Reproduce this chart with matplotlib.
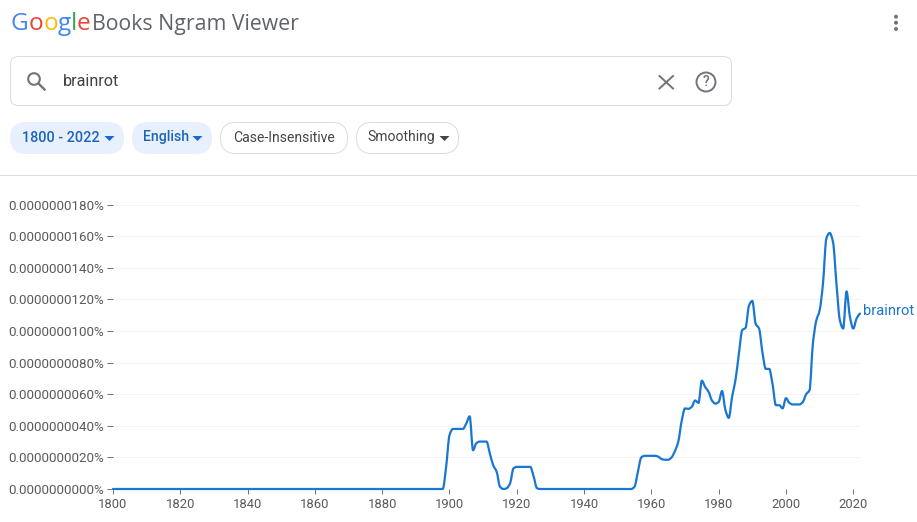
import matplotlib
matplotlib.use("Agg")
import matplotlib.pyplot as plt
from matplotlib.patches import FancyBboxPatch, Circle, Polygon, PathPatch
from matplotlib.path import Path

plt.rcParams['font.family'] = ['Roboto', 'DejaVu Sans']

# Data, in units of 1e-9 percent
years = list(range(1800, 2023))
values = [0] * 98  # 1800-1897
values += [0, 1.4, 3.4, 3.8, 3.8, 3.8, 3.8, 4.15, 4.6, 2.45, 2.9, 3.0, 3.0, 3.0,
           2.25, 1.5, 1.1, 0.15, 0, 0.05, 0.35, 1.3, 1.4, 1.4, 1.4, 1.4, 1.4, 0.8, 0.05, 0]
values += [0] * 27  # 1928-1954
values += [0.15, 1.1, 2.0, 2.1, 2.1, 2.1, 2.1, 2.05, 1.9, 1.85, 1.85, 2.0, 2.4, 3.0, 4.3, 5.1,
           5.07, 5.2, 5.6, 5.45, 6.85, 6.45, 6.15, 5.6, 5.4, 5.5, 6.2, 5.0, 4.5, 5.85, 6.9,
           8.55, 10.05, 10.2, 11.6, 11.9, 10.45, 10.15, 8.65, 7.6, 7.6, 6.65, 5.3, 5.3, 5.1,
           5.75, 5.45, 5.35, 5.35, 5.35, 5.5, 6.0, 6.25, 9.2, 10.65, 11.3, 13.0, 15.85, 16.2,
           15.6, 13.0, 10.7, 10.15, 12.5, 10.9, 10.15, 10.8, 11.1]
x_ticks = list(range(1800, 2021, 20))
y_ticks = list(range(0, 19, 2))

W, H = 917, 522
BLUE = '#1976d2'
GREY = '#5f6368'
BORDER = '#dadce0'
PX = 0.72  # one pixel in points


def monotone_path(xs, ys):
    # same curve type the viewer uses: cubic segments that never overshoot
    slopes = [(ys[i + 1] - ys[i]) / (xs[i + 1] - xs[i]) for i in range(len(xs) - 1)]
    tang = [slopes[0]]
    for a, b in zip(slopes[:-1], slopes[1:]):
        tang.append(0 if a * b <= 0 else 2 * a * b / (a + b))
    tang.append(slopes[-1])
    verts = [(xs[0], ys[0])]
    codes = [Path.MOVETO]
    for i in range(len(xs) - 1):
        h = (xs[i + 1] - xs[i]) / 3
        verts += [(xs[i] + h, ys[i] + tang[i] * h),
                  (xs[i + 1] - h, ys[i + 1] - tang[i + 1] * h),
                  (xs[i + 1], ys[i + 1])]
        codes += [Path.CURVE4] * 3
    return Path(verts, codes)


fig = plt.figure(figsize=(W / 100, H / 100), dpi=100)

# Chart
ax = fig.add_axes([113 / W, 1 - 489 / H, (860 - 113) / W, (489 - 204.5) / H])
ax.add_patch(PathPatch(monotone_path(years, values), fc='none', ec=BLUE, lw=1.6, clip_on=False,
                       joinstyle='round', capstyle='round', zorder=3))
ax.set_xlim(1800, 2022)
ax.set_ylim(0, 18)
ax.set_xticks(x_ticks)
ax.set_yticks(y_ticks)
ax.set_yticklabels([f"{v * 1e-9:.10f}%" for v in y_ticks])
ax.tick_params(axis='y', length=4.3, width=PX, color='#777777', labelcolor='#5a5a5a', labelsize=9.6, pad=2)
ax.tick_params(axis='x', length=3.6, width=PX, color='#777777', labelcolor='#5a5a5a', labelsize=9.4, pad=3)
ax.grid(axis='y', color='#f3f3f3', lw=PX)
ax.set_axisbelow(True)
for s in ax.spines.values():
    s.set_visible(False)
ax.annotate('brainrot', (2022, 11.1), xytext=(3, 3), textcoords='offset pixels',
            color=BLUE, fontsize=10.6, va='center', ha='left', annotation_clip=False)

# Page chrome, drawn in pixel coordinates
ui = fig.add_axes([0, 0, 1, 1], zorder=5)
ui.set_xlim(0, W)
ui.set_ylim(H, 0)
ui.axis('off')
ui.patch.set_alpha(0)

# logo
logo = [('G', 10, '#4285f4'), ('o', 28.5, '#ea4335'), ('o', 43.3, '#fbbc05'),
        ('g', 57.3, '#4285f4'), ('l', 71.2, '#34a853'), ('e', 76.2, '#ea4335')]
for ch, x, c in logo:
    ui.text(x, 30, ch, color=c, fontsize=17.6, family='Open Sans', weight='medium', va='baseline', ha='left')
ui.text(92, 30, 'Books Ngram Viewer', color=GREY, fontsize=15.3, family='Open Sans', va='baseline', ha='left')

# menu dots
for y in (16.7, 22.7, 29):
    ui.add_patch(Circle((896, y), 2, color='#70757a', lw=0))

# search box
ui.add_patch(FancyBboxPatch((10.5, 56.5), 721, 49, boxstyle='round,pad=0,rounding_size=8',
                            fc='white', ec=BORDER, lw=PX))
ui.add_patch(Circle((34, 79), 5.8, fc='none', ec='#70757a', lw=1.5))
ui.plot([38.5, 44.5], [83.5, 89.5], color='#70757a', lw=1.7)
ui.text(63, 81.5, 'brainrot', color='#3c4043', fontsize=11.6, va='center', ha='left')
ui.plot([659.5, 673], [76, 88.5], color='#70757a', lw=1.4)
ui.plot([659.5, 673], [88.5, 76], color='#70757a', lw=1.4)
ui.add_patch(Circle((706, 82), 9.5, fc='none', ec='#70757a', lw=1.4))
ui.text(706, 82.5, '?', color='#70757a', fontsize=10, weight='medium', va='center', ha='center')

# chips
chips = [(10, 124, '1800 - 2022', 22, 10.4, '#e8f0fe', None, '#1a64b8', '#1967d2'),
         (132, 212, 'English', 143, 10.1, '#e8f0fe', None, '#1a64b8', '#1967d2'),
         (220, 348, 'Case-Insensitive', 233.5, 10.1, 'white', BORDER, '#444746', None),
         (356, 459, 'Smoothing', 367.5, 10.1, 'white', BORDER, '#444746', '#444746')]
for x0, x1, label, tx, fs, fc, ec, tc, ac in chips:
    ui.add_patch(FancyBboxPatch((x0 + 0.5, 122.5), x1 - x0 - 1, 31, boxstyle='round,pad=0,rounding_size=15.5',
                                fc=fc, ec=ec if ec else fc, lw=PX))
    ui.text(tx, 137.5, label, color=tc, fontsize=fs, va='center', ha='left',
            weight='medium' if ec is None else 'normal')
    if ac:
        ax0 = x1 - 19.5
        ui.add_patch(Polygon([(ax0, 136), (ax0 + 10, 136), (ax0 + 5, 141)], fc=ac, lw=0))

# separator under the toolbar
ui.plot([0, W], [174.5, 174.5], color=BORDER, lw=PX)

fig.savefig('out.png', dpi=100)
